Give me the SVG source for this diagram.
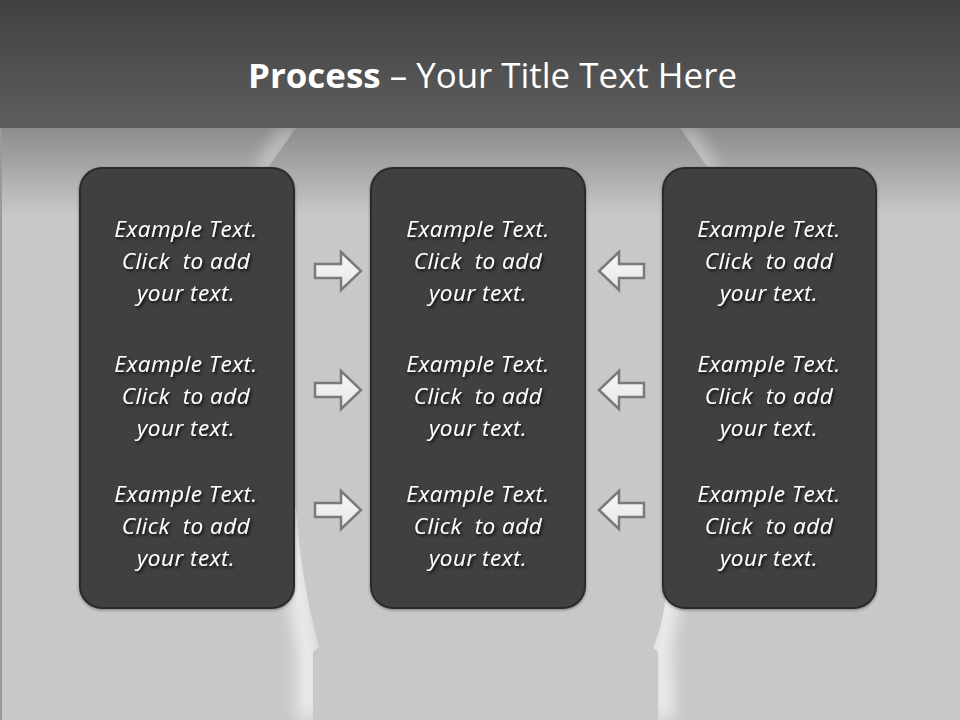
<svg xmlns="http://www.w3.org/2000/svg" width="960" height="720" viewBox="0 0 960 720">
<defs>
<linearGradient id="top" x1="0" y1="0" x2="0" y2="1">
<stop offset="0" stop-color="#414141"/>
<stop offset="1" stop-color="#5e5e5e"/>
</linearGradient>
<linearGradient id="low" gradientUnits="userSpaceOnUse" x1="0" y1="128" x2="0" y2="215">
<stop offset="0" stop-color="#8c8c8c"/>
<stop offset="1" stop-color="#c8c8c8"/>
</linearGradient>
<linearGradient id="arrowFill" x1="0" y1="0" x2="0" y2="1">
<stop offset="0" stop-color="#f8f8f8"/>
<stop offset="1" stop-color="#e6e6e6"/>
</linearGradient>
<filter id="glow" x="-50%" y="-50%" width="200%" height="200%">
<feGaussianBlur stdDeviation="9"/>
</filter>
<filter id="tshadow" x="-20%" y="-20%" width="140%" height="160%">
<feDropShadow dx="1.5" dy="2" stdDeviation="1.5" flood-color="#000" flood-opacity="0.85"/>
</filter>
<filter id="bshadow" x="-10%" y="-10%" width="120%" height="120%">
<feDropShadow dx="0" dy="1" stdDeviation="1.5" flood-color="#000" flood-opacity="0.4"/>
</filter>
</defs>
<style>
.box{fill:#404040;stroke:#2b2b2b;stroke-width:2;filter:url(#bshadow)}
.arrow{fill:url(#arrowFill);stroke:#7a7a7a;stroke-width:2.5;stroke-linejoin:miter}
.body{font-family:"Open Sans","Noto Sans",sans-serif;font-style:italic;font-size:22.5px;letter-spacing:0.5px;fill:#ffffff;text-anchor:middle;white-space:pre;filter:url(#tshadow)}
.title{font-family:"Open Sans","Noto Sans",sans-serif;font-size:34px;fill:#ffffff}
</style>

<g id="background">
<rect x="0" y="0" width="960" height="720" fill="url(#low)"/>
<rect x="0" y="128" width="2" height="592" fill="#9a9a9a"/>
<g filter="url(#glow)" fill="none" stroke="#ffffff">
<path d="M292,128 L262,172" stroke-width="12" opacity="0.6"/>
<path d="M683,128 L712,172" stroke-width="12" opacity="0.6"/>
<path d="M286,470 C290,540 300,600 308,650 L308,720" stroke-width="16" opacity="0.9"/>
<path d="M672,560 C670,600 664,630 660,650 L664,720" stroke-width="16" opacity="0.9"/>
</g>
<path d="M296,128 L266,170 L262,300 C280,420 296,500 297,520 C302,580 312,620 319,647 L313,652 L313,720 L658,720 L658,652 L653,648 C660,630 664,615 665,600 L700,300 L708,168 L680,128 Z" fill="url(#low)"/>
<path d="M318,652 C420,630 560,630 654,652" fill="none" stroke="#d0d0d0" stroke-width="1.2" opacity="0.5"/>
<rect x="0" y="0" width="960" height="128" fill="url(#top)"/>
</g>

<g id="title">
<text class="title" x="248" y="88" textLength="489" lengthAdjust="spacingAndGlyphs"><tspan font-weight="bold">Process</tspan> – Your Title Text Here</text>
</g>

<g id="box-left">
<rect class="box" x="80" y="168" width="214" height="440" rx="22"/>
<text class="body" x="186"><tspan x="186" y="237">Example Text.</tspan><tspan x="186" y="269">Click  to add</tspan><tspan x="186" y="301">your text.</tspan></text>
<text class="body" x="186"><tspan x="186" y="372">Example Text.</tspan><tspan x="186" y="404">Click  to add</tspan><tspan x="186" y="436">your text.</tspan></text>
<text class="body" x="186"><tspan x="186" y="502">Example Text.</tspan><tspan x="186" y="534">Click  to add</tspan><tspan x="186" y="566">your text.</tspan></text>
</g>

<g id="box-middle">
<rect class="box" x="371" y="168" width="214" height="440" rx="22"/>
<text class="body" x="478"><tspan x="478" y="237">Example Text.</tspan><tspan x="478" y="269">Click  to add</tspan><tspan x="478" y="301">your text.</tspan></text>
<text class="body" x="478"><tspan x="478" y="372">Example Text.</tspan><tspan x="478" y="404">Click  to add</tspan><tspan x="478" y="436">your text.</tspan></text>
<text class="body" x="478"><tspan x="478" y="502">Example Text.</tspan><tspan x="478" y="534">Click  to add</tspan><tspan x="478" y="566">your text.</tspan></text>
</g>

<g id="box-right">
<rect class="box" x="663" y="168" width="213" height="440" rx="22"/>
<text class="body" x="769"><tspan x="769" y="237">Example Text.</tspan><tspan x="769" y="269">Click  to add</tspan><tspan x="769" y="301">your text.</tspan></text>
<text class="body" x="769"><tspan x="769" y="372">Example Text.</tspan><tspan x="769" y="404">Click  to add</tspan><tspan x="769" y="436">your text.</tspan></text>
<text class="body" x="769"><tspan x="769" y="502">Example Text.</tspan><tspan x="769" y="534">Click  to add</tspan><tspan x="769" y="566">your text.</tspan></text>
</g>

<g id="connectors">
<path class="arrow" d="M315,264 H341 V252 L361,271 L341,290 V278 H315 Z"/>
<path class="arrow" d="M315,383 H341 V371 L361,390 L341,409 V397 H315 Z"/>
<path class="arrow" d="M315,503 H341 V491 L361,510 L341,529 V517 H315 Z"/>
<path class="arrow" d="M644,264 H619 V252 L599,271 L619,290 V278 H644 Z"/>
<path class="arrow" d="M644,383 H619 V371 L599,390 L619,409 V397 H644 Z"/>
<path class="arrow" d="M644,503 H619 V491 L599,510 L619,529 V517 H644 Z"/>
</g>
</svg>
